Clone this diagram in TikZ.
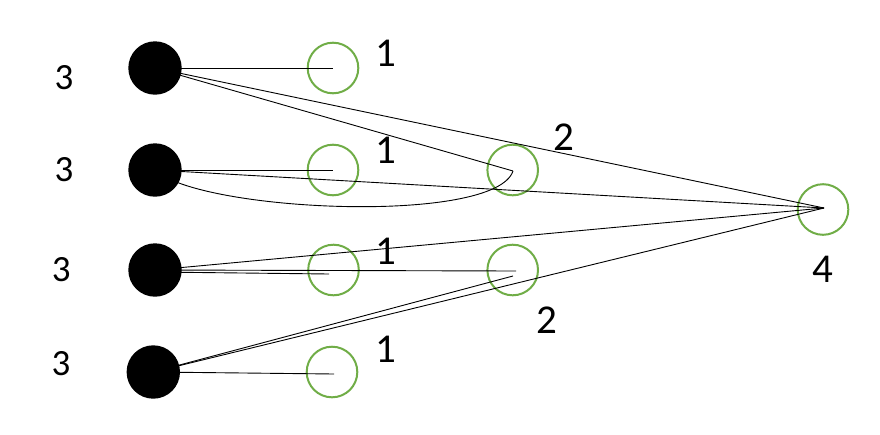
\documentclass[tikz,border=0pt]{standalone}
\usepackage{fontspec}
\setmainfont{Carlito}
\definecolor{ogreen}{HTML}{70AD47}
\begin{document}
\begin{tikzpicture}[x=1pt,y=-1pt,
  bdot/.style={circle,fill=black,minimum size=53.4pt,inner sep=0pt},
  gcirc/.style={circle,draw=ogreen,line width=2pt,minimum size=50.6pt,inner sep=0pt},
  conn/.style={draw=black,line width=0.9pt},
  lblA/.style={font=\fontsize{37}{44}\selectfont,inner sep=0pt},
  lblB/.style={font=\fontsize{41}{48}\selectfont,inner sep=0pt}]
\useasboundingbox (0,0) rectangle (880,434);
% green circles
\node[gcirc] (g1) at (333,68) {};
\node[gcirc] (g2) at (333,170) {};
\node[gcirc] (g3) at (333.5,270) {};
\node[gcirc] (g4) at (332,372) {};
\node[gcirc] (m1) at (512.7,170) {};
\node[gcirc] (m2) at (512.7,270) {};
\node[gcirc] (r) at (823,209.5) {};
% black circle centres
\coordinate (b1c) at (155,68);
\coordinate (b2c) at (155,170);
\coordinate (b3c) at (155,270);
\coordinate (b3s) at (155,272);
\coordinate (b4c) at (153.3,372);
% connector end points
\coordinate (re) at (824,208);
\coordinate (m1e) at (513,171);
\coordinate (m2a) at (516,271);
\coordinate (m2b) at (513,276);
\coordinate (g3e) at (329,274);
\coordinate (g4e) at (334,374);
% connectors
\draw[conn] (b1c) -- (g1.center);
\draw[conn] (b1c) -- (m1e);
\draw[conn] (b1c) -- (re);
\draw[conn] (b2c) -- (g2.center);
\draw[conn] (b2c) -- (re);
\draw[conn] (b2c) .. controls (200,212) and (495,225) .. (m1e);
\draw[conn] (b3c) -- (re);
\draw[conn] (b3c) -- (m2a);
\draw[conn] (b3s) -- (g3e);
\draw[conn] (b4c) -- (m2b);
\draw[conn] (b4c) -- (re);
\draw[conn] (b4c) -- (g4e);
% black circles
\node[bdot] (b1) at (b1c) {};
\node[bdot] (b2) at (b2c) {};
\node[bdot] (b3) at (b3c) {};
\node[bdot] (b4) at (b4c) {};
% labels
\node[lblA] (l3a) at (64,77.5) {3};
\node[lblA] (l3b) at (64,170) {3};
\node[lblA] (l3c) at (61.3,270) {3};
\node[lblA] (l3d) at (61,363.5) {3};
\node[lblB] (l1a) at (386,53) {1};
\node[lblB] (l1b) at (386,150) {1};
\node[lblB] (l1c) at (386,251.5) {1};
\node[lblB] (l1d) at (386,349.5) {1};
\node[lblB] (l2a) at (564,137) {2};
\node[lblB] (l2b) at (546.7,320) {2};
\node[lblB] (l4) at (823,269.7) {4};
\end{tikzpicture}
\end{document}
